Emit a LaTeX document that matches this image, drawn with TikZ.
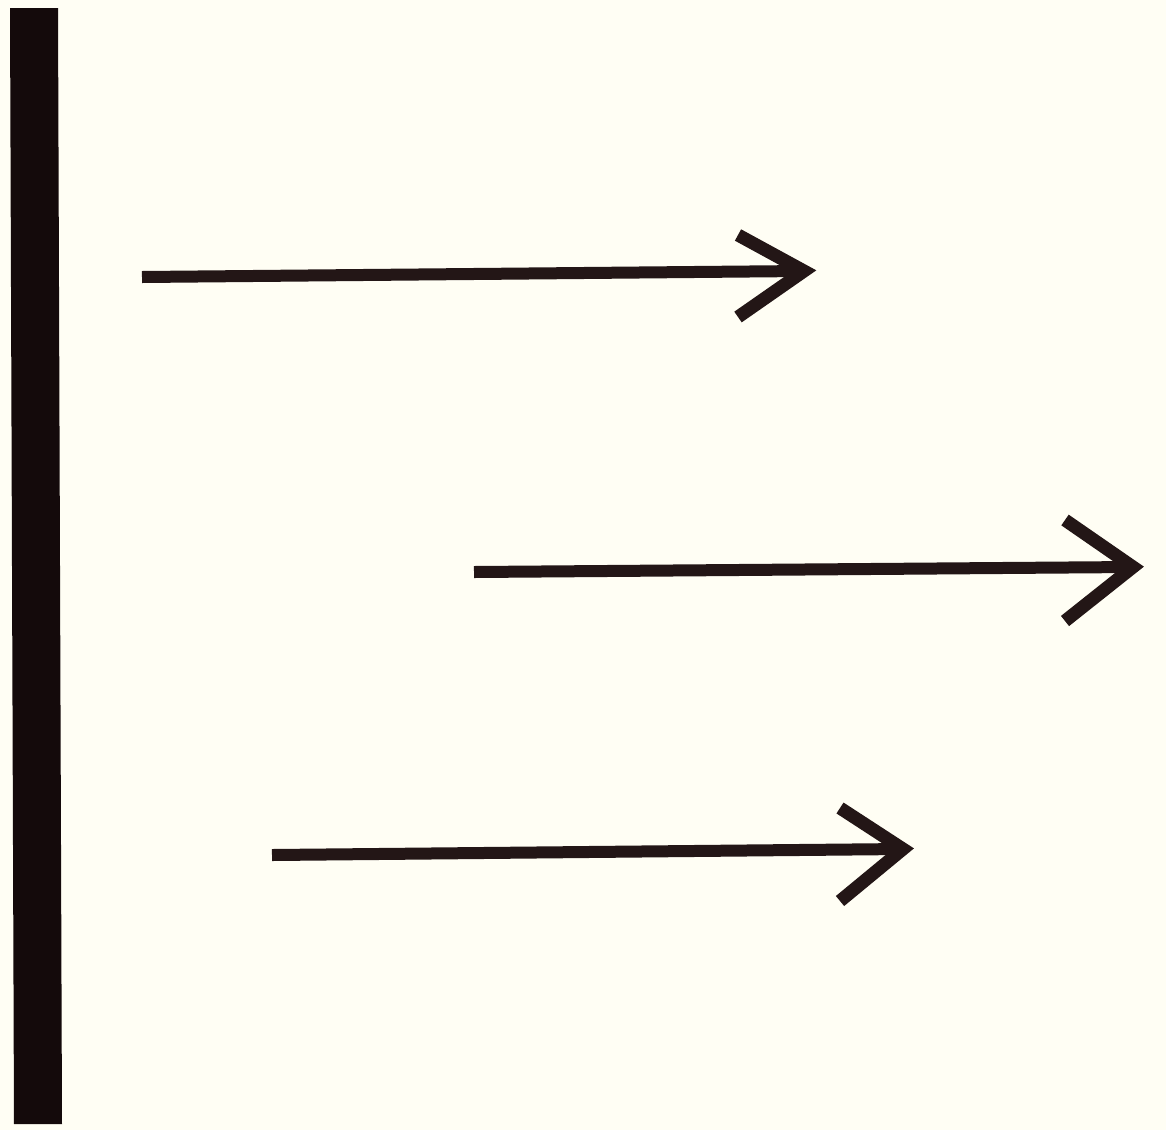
\documentclass[tikz,border=0pt]{standalone}
\definecolor{paper}{HTML}{FFFEF4}
\definecolor{ink}{HTML}{231616}
\definecolor{barink}{HTML}{140A0B}
\begin{document}
\begin{tikzpicture}[x=1pt,y=-1pt,
  shaft/.style={draw=ink,line width=12pt},
  headline/.style={draw=ink,line width=13pt,line join=miter,miter limit=10}]
\fill[paper] (0,0) rectangle (1166,1130);
\useasboundingbox (0,0) rectangle (1166,1130);
% vertical bar
\fill[barink] (10,8) -- (58,8) -- (62,1124) -- (14,1124) -- cycle;
% arrow 1
\coordinate (a1s) at (142,277);
\coordinate (a1e) at (804,271);
\coordinate (a1u) at (738,235);
\coordinate (a1d) at (738,317);
\draw[shaft] (a1s) -- (a1e);
\draw[headline] (a1u) -- (a1e) -- (a1d);
% arrow 2
\coordinate (a2s) at (474,572);
\coordinate (a2e) at (1133,567);
\coordinate (a2u) at (1065,520);
\coordinate (a2d) at (1065,621);
\draw[shaft] (a2s) -- (a2e);
\draw[headline] (a2u) -- (a2e) -- (a2d);
% arrow 3
\coordinate (a3s) at (272,855);
\coordinate (a3e) at (903,849);
\coordinate (a3u) at (840,808);
\coordinate (a3d) at (840,901);
\draw[shaft] (a3s) -- (a3e);
\draw[headline] (a3u) -- (a3e) -- (a3d);
\end{tikzpicture}
\end{document}
